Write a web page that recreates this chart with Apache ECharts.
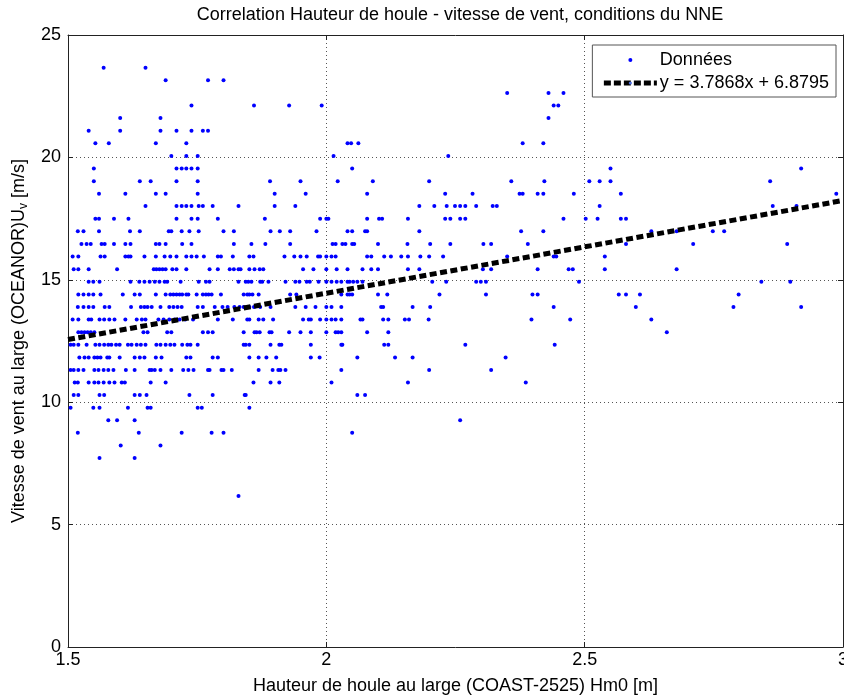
<!DOCTYPE html>
<html>
<head>
<meta charset="utf-8">
<script src="https://cdn.jsdelivr.net/npm/echarts@6/dist/echarts.min.js"></script>
<style>
html,body{margin:0;padding:0;background:#fff;}
#chart{width:844px;height:696px;}
</style>
</head>
<body>
<div id="chart"></div>
<script>
// Wind speed levels (m/s), one per row of points
const vitesses = [23.66, 23.15, 22.63, 22.12, 21.61, 21.09, 20.58, 20.06, 19.55, 19.03, 18.52, 18.01, 17.49, 16.98, 16.46, 15.95, 15.43, 14.92, 14.40, 13.89, 13.38, 12.86, 12.35, 11.83, 11.32, 10.80, 10.29, 9.77, 9.26, 8.75, 8.23, 7.72, 6.17];
// Wave heights Hm0 (m) observed at each wind speed level
const hauteurs = [
  [1.569, 1.650],
  [1.689, 1.771, 1.801],
  [2.350, 2.430, 2.459],
  [1.739, 1.860, 1.928, 1.991, 2.440, 2.449],
  [1.601, 1.679, 2.430],
  [1.540, 1.601, 1.679, 1.710, 1.739, 1.761, 1.771],
  [1.553, 1.579, 1.670, 1.729, 2.041, 2.048, 2.062, 2.380, 2.420],
  [1.700, 1.729, 1.751, 2.014, 2.236],
  [1.550, 1.710, 1.720, 1.729, 1.739, 1.751, 2.050, 2.550, 2.919],
  [1.550, 1.639, 1.660, 1.710, 1.751, 1.891, 1.950, 2.022, 2.090, 2.199, 2.358, 2.422, 2.509, 2.529, 2.550, 2.859],
  [1.560, 1.611, 1.670, 1.689, 1.751, 1.900, 1.960, 2.079, 2.230, 2.283, 2.374, 2.380, 2.409, 2.420, 2.479, 2.570, 2.987],
  [1.650, 1.710, 1.720, 1.729, 1.739, 1.753, 1.761, 1.780, 1.830, 1.900, 1.940, 2.180, 2.209, 2.233, 2.249, 2.259, 2.269, 2.290, 2.322, 2.330, 2.529, 2.864, 2.910],
  [1.553, 1.560, 1.589, 1.617, 1.710, 1.739, 1.751, 1.790, 1.881, 1.988, 2.000, 2.004, 2.079, 2.102, 2.108, 2.158, 2.230, 2.240, 2.259, 2.269, 2.459, 2.502, 2.525, 2.570, 2.580],
  [1.519, 1.530, 1.560, 1.620, 1.639, 1.695, 1.700, 1.720, 1.735, 1.753, 1.801, 1.821, 1.892, 1.910, 1.930, 1.981, 2.041, 2.050, 2.075, 2.079, 2.180, 2.377, 2.420, 2.629, 2.678, 2.748, 2.770],
  [1.526, 1.536, 1.544, 1.565, 1.571, 1.589, 1.611, 1.621, 1.670, 1.677, 1.689, 1.721, 1.739, 1.821, 1.855, 1.882, 1.930, 2.012, 2.018, 2.031, 2.037, 2.050, 2.054, 2.100, 2.157, 2.201, 2.240, 2.304, 2.319, 2.390, 2.580, 2.710, 2.892],
  [1.509, 1.520, 1.563, 1.571, 1.611, 1.617, 1.621, 1.648, 1.670, 1.687, 1.698, 1.710, 1.729, 1.739, 1.749, 1.763, 1.790, 1.796, 1.819, 1.851, 1.859, 1.919, 1.938, 1.950, 1.962, 1.984, 1.988, 2.000, 2.010, 2.018, 2.079, 2.087, 2.112, 2.125, 2.145, 2.158, 2.182, 2.199, 2.226, 2.350, 2.440, 2.445, 2.539],
  [1.511, 1.520, 1.540, 1.595, 1.666, 1.671, 1.677, 1.683, 1.689, 1.702, 1.710, 1.729, 1.774, 1.790, 1.813, 1.821, 1.830, 1.834, 1.851, 1.861, 1.871, 1.878, 1.955, 1.975, 2.000, 2.020, 2.041, 2.070, 2.087, 2.100, 2.158, 2.180, 2.303, 2.319, 2.409, 2.469, 2.477, 2.539, 2.678],
  [1.540, 1.549, 1.561, 1.621, 1.638, 1.648, 1.658, 1.668, 1.677, 1.687, 1.692, 1.718, 1.753, 1.767, 1.774, 1.830, 1.844, 1.849, 1.855, 1.872, 1.876, 1.888, 1.921, 1.940, 1.948, 1.962, 1.968, 1.985, 2.000, 2.010, 2.020, 2.029, 2.041, 2.045, 2.052, 2.060, 2.070, 2.205, 2.232, 2.290, 2.299, 2.309, 2.489, 2.842, 2.898],
  [1.520, 1.530, 1.540, 1.549, 1.563, 1.606, 1.629, 1.639, 1.670, 1.689, 1.698, 1.704, 1.710, 1.716, 1.721, 1.729, 1.733, 1.749, 1.761, 1.767, 1.772, 1.778, 1.796, 1.840, 1.847, 1.851, 1.857, 1.869, 1.930, 1.942, 1.985, 2.029, 2.041, 2.045, 2.050, 2.100, 2.118, 2.219, 2.309, 2.399, 2.409, 2.566, 2.580, 2.607, 2.798],
  [1.519, 1.530, 1.540, 1.549, 1.571, 1.580, 1.622, 1.641, 1.648, 1.654, 1.662, 1.679, 1.696, 1.704, 1.712, 1.720, 1.751, 1.761, 1.784, 1.799, 1.809, 1.822, 1.832, 1.840, 1.851, 1.860, 1.872, 1.892, 1.940, 1.960, 1.979, 2.000, 2.010, 2.029, 2.106, 2.110, 2.167, 2.201, 2.440, 2.599, 2.788, 2.919],
  [1.509, 1.520, 1.540, 1.545, 1.561, 1.570, 1.580, 1.590, 1.611, 1.633, 1.643, 1.650, 1.675, 1.685, 1.696, 1.706, 1.716, 1.727, 1.742, 1.790, 1.819, 1.847, 1.851, 1.869, 1.878, 1.897, 1.955, 1.966, 1.970, 1.988, 2.000, 2.010, 2.018, 2.029, 2.066, 2.070, 2.110, 2.120, 2.152, 2.160, 2.198, 2.397, 2.472, 2.629],
  [1.520, 1.526, 1.532, 1.538, 1.544, 1.551, 1.646, 1.654, 1.692, 1.700, 1.761, 1.771, 1.780, 1.840, 1.861, 1.865, 1.871, 1.890, 1.894, 1.928, 1.950, 1.970, 2.000, 2.018, 2.023, 2.029, 2.079, 2.120, 2.659],
  [1.505, 1.511, 1.520, 1.536, 1.553, 1.561, 1.570, 1.578, 1.584, 1.593, 1.600, 1.616, 1.623, 1.633, 1.641, 1.650, 1.671, 1.679, 1.689, 1.698, 1.706, 1.721, 1.731, 1.737, 1.751, 1.840, 1.844, 1.851, 1.892, 1.909, 1.913, 1.970, 2.029, 2.031, 2.112, 2.120, 2.269, 2.442],
  [1.522, 1.532, 1.540, 1.551, 1.557, 1.563, 1.576, 1.580, 1.600, 1.629, 1.639, 1.648, 1.670, 1.681, 1.729, 1.737, 1.780, 1.790, 1.851, 1.869, 1.884, 1.903, 1.970, 1.987, 2.060, 2.133, 2.167, 2.347],
  [1.505, 1.511, 1.520, 1.530, 1.551, 1.559, 1.569, 1.578, 1.588, 1.612, 1.629, 1.658, 1.662, 1.668, 1.679, 1.700, 1.723, 1.733, 1.743, 1.771, 1.774, 1.797, 1.801, 1.817, 1.869, 1.896, 1.907, 1.911, 1.921, 2.029, 2.199, 2.319],
  [1.513, 1.519, 1.540, 1.551, 1.559, 1.569, 1.580, 1.590, 1.604, 1.610, 1.660, 1.689, 1.859, 1.892, 1.909, 2.010, 2.158, 2.386],
  [1.511, 1.520, 1.561, 1.570, 1.629, 1.639, 1.652, 1.735, 1.780, 1.842, 1.844, 2.060, 2.075],
  [1.505, 1.549, 1.561, 1.616, 1.654, 1.660, 1.751, 1.759, 1.851],
  [1.578, 1.595, 1.629, 2.259],
  [1.519, 1.637, 1.720, 1.778, 1.801, 2.050],
  [1.602, 1.679],
  [1.561, 1.629],
  [1.830]
];
// Linear fit y = 3.7868x + 6.8795 at the ends of the axis
const droiteX = [1.5, 3.0];
const droiteY = [12.559, 18.240];
const nomDonnees = 'Données';
const nomDroite = 'y = 3.7868x + 6.8795';
const ticksX = [1.5, 2, 2.5, 3];
const ticksY = [0, 5, 10, 15, 20, 25];

const points = [];
hauteurs.forEach((row, i) => row.forEach(h => points.push([h, vitesses[i]])));
const droite = droiteX.map((x, i) => [x, droiteY[i]]);

const FONT = '"Liberation Sans", Arial, Helvetica, sans-serif';
const chart = echarts.init(document.getElementById('chart'), null, {renderer: 'canvas'});

const axisCommon = {
  type: 'value',
  axisLine: {show: true, onZero: false, lineStyle: {color: '#222', width: 1}},
  axisTick: {show: true, inside: true, length: 5, lineStyle: {color: '#222'}},
  splitLine: {show: false},
  axisLabel: {show: false}
};

chart.setOption({
  animation: false,
  backgroundColor: '#fff',
  textStyle: {fontFamily: FONT},
  title: {
    text: 'Correlation Hauteur de houle - vitesse de vent, conditions du NNE',
    left: 455, top: 1, textAlign: 'center',
    textStyle: {fontSize: 18, fontWeight: 'normal', color: '#000', fontFamily: FONT}
  },
  grid: {left: 68, right: 1, top: 35, bottom: 49, containLabel: false, outerBoundsMode: 'none'},
  legend: {
    orient: 'vertical', right: 8, top: 45,
    backgroundColor: '#fff', borderColor: '#555', borderWidth: 1, borderRadius: 0,
    padding: [6, 7, 5, 9],
    itemWidth: 53, itemHeight: 4, itemGap: 5,
    textStyle: {fontSize: 18, color: '#000', fontFamily: FONT, padding: [0, 0, 0, -2]},
    selectedMode: false,
    data: [
      {name: nomDonnees, icon: 'circle', itemStyle: {color: '#0000ff'}},
      {name: nomDroite, lineStyle: {width: 5, type: [7, 3], color: '#000'}}
    ]
  },
  xAxis: [
    Object.assign({}, axisCommon, {
      min: ticksX[0], max: ticksX[ticksX.length - 1], interval: 0.5,
      position: 'bottom',
      axisLabel: {show: true, fontSize: 18, color: '#000', margin: 4, fontFamily: FONT},
      splitLine: {show: true, lineStyle: {type: [1, 3], color: '#555', width: 1}},
      name: 'Hauteur de houle au large (COAST-2525) Hm0 [m]',
      nameLocation: 'middle', nameGap: 30,
      nameTextStyle: {fontSize: 18, color: '#000', fontFamily: FONT}
    }),
    Object.assign({}, axisCommon, {
      min: ticksX[0], max: ticksX[ticksX.length - 1], interval: 0.5, position: 'top'
    })
  ],
  yAxis: [
    Object.assign({}, axisCommon, {
      min: ticksY[0], max: ticksY[ticksY.length - 1], interval: 5,
      position: 'left',
      axisLabel: {show: true, fontSize: 18, color: '#000', margin: 7, fontFamily: FONT},
      splitLine: {show: true, lineStyle: {type: [1, 3], color: '#555', width: 1}},
      name: '{t|Vitesse de vent au large (OCEANOR)U}{s|v}{t| [m/s]}',
      nameLocation: 'middle', nameGap: 37,
      nameTextStyle: {
        fontSize: 18, color: '#000', fontFamily: FONT,
        rich: {
          t: {fontSize: 18, lineHeight: 22, color: '#000', fontFamily: FONT},
          s: {fontSize: 12, lineHeight: 12, verticalAlign: 'bottom', color: '#000', fontFamily: FONT}
        }
      }
    }),
    Object.assign({}, axisCommon, {
      min: ticksY[0], max: ticksY[ticksY.length - 1], interval: 5, position: 'right'
    })
  ],
  series: [
    {
      type: 'scatter', name: nomDonnees, data: points,
      xAxisIndex: 0, yAxisIndex: 0,
      symbol: 'circle', symbolSize: 4,
      itemStyle: {color: '#0000ff', opacity: 1},
      silent: true, z: 2
    },
    {
      type: 'line', name: nomDroite, data: droite,
      xAxisIndex: 0, yAxisIndex: 0,
      symbol: 'none', showSymbol: false,
      lineStyle: {color: '#000', width: 5, type: [7, 3.5]},
      silent: true, z: 3
    }
  ]
});
</script>
</body>
</html>
